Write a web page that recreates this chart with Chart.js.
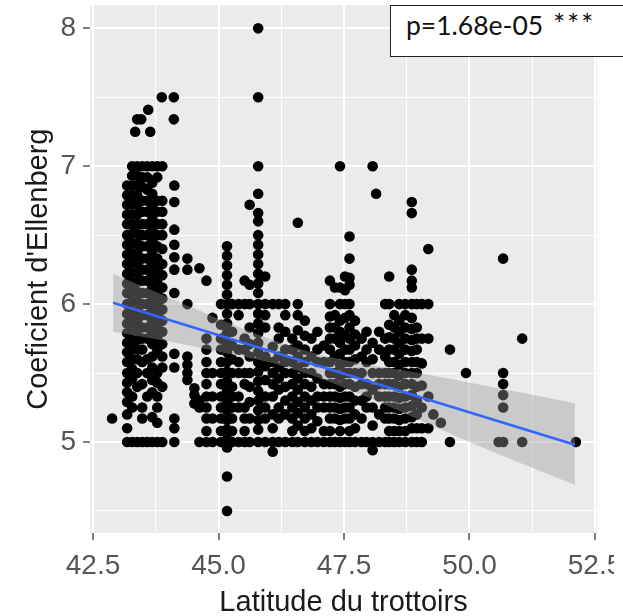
<!DOCTYPE html>
<html><head><meta charset="utf-8">
<script src="https://cdn.jsdelivr.net/npm/chart.js@4.4.0/dist/chart.umd.min.js"></script>
<style>
html,body{margin:0;padding:0;background:#fff;overflow:hidden;width:623px;height:616px;}
#wrap{position:relative;width:623px;height:616px;overflow:hidden;}
#c{position:absolute;left:0;top:0;}
#pbox{position:absolute;left:390px;top:5px;width:250px;height:52px;border:1.6px solid #222;background:#fff;box-sizing:border-box;
 font-family:Lato,"Open Sans",sans-serif;font-size:26.5px;line-height:36px;color:#111;padding-left:15px;white-space:nowrap;}
#pbox .st{font-size:28px;letter-spacing:2px;margin-left:1px;}
</style></head>
<body><div id="wrap"><canvas id="c" width="614" height="616"></canvas><div id="pbox">p=1.68e-05<span class="st"> ***</span></div></div>
<script>
// ---- data ----
const xTickValues = [42.5, 43.75, 45, 46.25, 47.5, 48.75, 50, 51.25, 52.5];
const xMajorTicks = [42.5, 45, 47.5, 50, 52.5];
const yTickValues = [4.5, 5, 5.5, 6, 6.5, 7, 7.5, 8];
const yMajorTicks = [5, 6, 7, 8];

// each stripe: [latitude, [Ellenberg coefficients]]
const stripesSouth = [
 [42.88, [5.17]],
 [43.18, [6.86,6.79,6.72,6.65,6.58,6.50,6.43,6.36,6.29,6.22,6.15,6.08,6.00,5.93,5.86,5.79,5.72,5.65,5.58,5.50,5.43,5.36,5.29,5.20,5.10,5.00]],
 [43.28, [7.00,6.93,6.86,6.79,6.72,6.65,6.58,6.51,6.44,6.37,6.30,6.23,6.16,6.09,6.02,5.95,5.88,5.81,5.74,5.67,5.60,5.53,5.46,5.33,5.25,5.00]],
 [43.34, [7.25]],
 [43.38, [7.34,7.00,6.93,6.86,6.79,6.72,6.65,6.58,6.51,6.44,6.37,6.30,6.23,6.16,6.09,6.02,5.95,5.88,5.81,5.74,5.67,5.60,5.50,5.40,5.00]],
 [43.46, [7.34]],
 [43.48, [7.00,6.92,6.85,6.75,6.67,6.58,6.50,6.42,6.33,6.25,6.17,6.08,6.00,5.92,5.83,5.75,5.67,5.58,5.42,5.25,5.17,5.00]],
 [43.58, [7.00,6.92,6.83,6.75,6.67,6.58,6.50,6.42,6.33,6.25,6.17,6.08,6.00,5.92,5.83,5.75,5.60,5.50,5.33,5.00]],
 [43.60, [7.41]],
 [43.64, [7.25]],
 [43.68, [7.00,6.88,6.80,6.71,6.62,6.54,6.46,6.38,6.29,6.21,6.12,6.04,5.96,5.88,5.79,5.71,5.62,5.54,5.45,5.36,5.18,5.00]],
 [43.78, [7.00,6.92,6.75,6.67,6.58,6.50,6.42,6.33,6.25,6.17,6.08,6.00,5.92,5.83,5.75,5.67,5.50,5.43,5.33,5.25,5.14,5.00]],
 [43.87, [7.50]],
 [43.88, [7.00,6.75,6.67,6.58,6.50,6.40,6.29,6.21,6.12,6.04,5.96,5.88,5.80,5.71,5.62,5.54,5.40,5.00]],
 [44.11, [7.50,7.34]],
 [44.12, [6.86,6.74,6.54,6.43,6.34,6.25,6.08,5.64,5.54,5.17,5.10,5.00]],
 [44.38, [6.33,6.25,6.00,5.62,5.56,5.50,5.45]],
 [44.52, [5.39,5.34,5.28]],
 [44.62, [6.26,5.30,5.25,5.00]],
 [44.76, [6.17,5.75,5.67,5.58,5.50,5.42,5.33,5.25,5.17,5.08,5.00]],
 [44.88, [5.90,5.50,5.33,5.17,5.00]]
];
const stripesCentre = [
 [45.05, [6.00,5.85,5.75,5.67,5.58,5.50,5.42,5.33,5.25,5.17,5.08,5.00]],
 [45.17, [6.42,6.35,6.28,6.21,6.14,6.07,6.00,5.93,5.86,5.79,5.72,5.65,5.58,5.51,5.44,5.37,5.30,5.23,5.16,5.09,5.02,4.96,4.75,4.50]],
 [45.27, [6.00,5.80,5.70,5.60,5.50,5.40,5.33,5.25,5.17,5.08,5.00]],
 [45.40, [6.00,5.92,5.67,5.58,5.50,5.33,5.25,5.00]],
 [45.52, [6.17,6.00,5.75,5.67,5.50,5.42,5.25,5.17,5.08,5.00]],
 [45.62, [6.72,6.14,6.00,5.83,5.71,5.62,5.50,5.40,5.29,5.17,5.00]],
 [45.79, [8.00,7.50,7.00,6.80,6.66,6.60,6.50,6.43,6.36,6.29,6.22,6.15,6.08,6.00,5.93,5.86,5.79,5.72,5.65,5.58,5.51,5.44,5.37,5.30,5.23,5.16,5.09,5.00]],
 [45.93, [6.20,6.00,5.92,5.83,5.62,5.55,5.45,5.33,5.25,5.17,5.00]],
 [46.08, [6.00,5.69,5.58,5.50,5.42,5.33,5.20,5.10,5.00,4.93]],
 [46.20, [6.00,5.83,5.75,5.62,5.54,5.46,5.38,5.25,5.17,5.00]],
 [46.33, [6.00,5.92,5.80,5.67,5.58,5.50,5.40,5.30,5.20,5.00]],
 [46.47, [5.75,5.67,5.58,5.50,5.42,5.33,5.25,5.17,5.08,5.00]],
 [46.58, [6.59,6.00,5.92,5.81,5.70,5.62,5.54,5.46,5.38,5.29,5.21,5.12,5.00]],
 [46.72, [5.88,5.77,5.67,5.58,5.50,5.42,5.33,5.25,5.17,5.08,5.00]],
 [46.85, [5.75,5.62,5.50,5.40,5.30,5.20,5.10,5.00]],
 [46.97, [5.80,5.67,5.58,5.46,5.33,5.25,5.15,5.00]],
 [47.10, [5.70,5.58,5.42,5.33,5.25,5.08,5.00]]
];
const stripesNorth = [
 [47.22, [6.17,6.00,5.91,5.83,5.75,5.67,5.58,5.50,5.42,5.33,5.25,5.17,5.08,5.00]],
 [47.32, [6.12,5.92,5.83,5.75,5.62,5.50,5.42,5.33,5.25,5.17,5.00]],
 [47.42, [7.00,6.12,6.00,5.88,5.80,5.72,5.64,5.56,5.48,5.40,5.32,5.24,5.16,5.08,5.00]],
 [47.52, [6.20,6.10,6.00,5.90,5.77,5.67,5.58,5.50,5.42,5.33,5.25,5.17,5.00]],
 [47.61, [6.49,6.33,6.19,6.14,6.00,5.92,5.83,5.75,5.67,5.58,5.50,5.42,5.33,5.25,5.17,5.08,5.00]],
 [47.72, [5.88,5.78,5.70,5.60,5.50,5.40,5.30,5.20,5.10,5.00]],
 [47.85, [5.75,5.62,5.50,5.42,5.30,5.17,5.00]],
 [47.95, [5.80,5.67,5.58,5.42,5.33,5.25,5.00]],
 [48.07, [7.00,5.72,5.60,5.50,5.38,5.25,5.12,5.00,4.94]],
 [48.14, [6.80]],
 [48.20, [5.80,5.67,5.50,5.42,5.33,5.20,5.00]],
 [48.32, [6.00,5.75,5.62,5.50,5.42,5.33,5.25,5.17,5.00]],
 [48.40, [6.20,6.00,5.85,5.76,5.67,5.58,5.50,5.42,5.33,5.25,5.17,5.08,5.00]],
 [48.50, [5.92,5.83,5.75,5.67,5.58,5.50,5.42,5.33,5.25,5.17,5.08,5.00]],
 [48.60, [6.00,5.88,5.80,5.72,5.64,5.56,5.48,5.40,5.32,5.24,5.16,5.08,5.00]],
 [48.72, [6.00,5.92,5.83,5.75,5.67,5.58,5.50,5.42,5.33,5.25,5.17,5.08,5.00]],
 [48.85, [6.74,6.66,6.25,6.17,6.12,6.00,5.90,5.82,5.74,5.66,5.58,5.50,5.42,5.34,5.26,5.18,5.10,5.00]],
 [48.95, [6.00,5.83,5.75,5.67,5.58,5.50,5.40,5.30,5.20,5.10,5.00]],
 [49.05, [6.00,5.75,5.57,5.41,5.25,5.10,5.00]],
 [49.18, [6.40,6.00,5.75,5.33,5.10]],
 [49.28, [5.20]],
 [49.43, [5.14]],
 [49.61, [5.67,5.00]],
 [49.93, [5.50]],
 [50.58, [5.00]],
 [50.67, [6.33,5.50,5.42,5.34,5.25,5.00]],
 [51.05, [5.75,5.00]],
 [52.12, [5.00]]
];

// linear fit and its 95% confidence band
const fitLat  = [42.9, 52.1];
const fitVal  = [6.01, 4.98];
const bandLat  = [42.9, 44.0, 45.0, 46.0, 47.0, 48.0, 49.0, 50.0, 51.0, 52.1];
const bandHigh = [6.22, 6.05, 5.895, 5.75, 5.635, 5.56, 5.50, 5.43, 5.36, 5.28];
const bandLow  = [5.80, 5.73, 5.655, 5.58, 5.465, 5.32, 5.16, 5.00, 4.85, 4.69];

// ---- chart ----
const points = [];
for (const group of [stripesSouth, stripesCentre, stripesNorth]) {
  for (const [lat, vals] of group) for (const v of vals) points.push({x: lat, y: v});
}
const toXY = (xs, ys) => xs.map((x, i) => ({x, y: ys[i]}));

const panelBg = {
  id: 'panelBg',
  beforeDraw(chart) {
    const {ctx, chartArea: a} = chart;
    ctx.save();
    ctx.fillStyle = '#EBEBEB';
    ctx.fillRect(a.left, a.top, a.right - a.left, a.bottom - a.top);
    ctx.restore();
  }
};

const FONT = '"Liberation Sans", Arial, sans-serif';
const isMajor = (list, v) => list.some(m => Math.abs(m - v) < 1e-6);

new Chart(document.getElementById('c'), {
  type: 'scatter',
  data: {
    datasets: [
      { type: 'line', data: toXY(fitLat, fitVal), borderColor: '#3366FF', borderWidth: 2.5,
        pointRadius: 0, fill: false, order: 0 },
      { type: 'line', data: toXY(bandLat, bandHigh), borderWidth: 0, borderColor: 'rgba(0,0,0,0)',
        pointRadius: 0, fill: '+1', backgroundColor: 'rgba(153,153,153,0.4)', tension: 0.3, order: 1 },
      { type: 'line', data: toXY(bandLat, bandLow), borderWidth: 0, borderColor: 'rgba(0,0,0,0)',
        pointRadius: 0, fill: false, tension: 0.3, order: 1 },
      { type: 'scatter', data: points, backgroundColor: '#000', borderWidth: 0,
        pointRadius: 5.3, pointHoverRadius: 5.3, order: 2 }
    ]
  },
  options: {
    responsive: false,
    animation: false,
    events: [],
    devicePixelRatio: 1,
    layout: { padding: { left: 0, right: 17, top: 5, bottom: 0 } },
    plugins: { legend: { display: false }, tooltip: { enabled: false } },
    scales: {
      x: {
        type: 'linear', min: 42.44, max: 52.54,
        afterBuildTicks: s => { s.ticks = xTickValues.map(v => ({value: v})); },
        afterFit: s => { s.height = 83; s.paddingLeft = 0; s.paddingRight = 0; },
        border: { display: false },
        grid: {
          color: '#FFFFFF',
          lineWidth: c => isMajor(xMajorTicks, c.tick.value) ? 2 : 1,
          drawTicks: true, tickLength: 7, tickWidth: 1.5,
          tickColor: c => isMajor(xMajorTicks, c.tick.value) ? '#555' : 'rgba(0,0,0,0)'
        },
        ticks: {
          autoSkip: false, maxRotation: 0, minRotation: 0, padding: 9, color: '#555555',
          font: { family: FONT, size: 28 },
          callback: v => isMajor(xMajorTicks, v) ? v.toFixed(1) : ''
        },
        title: { display: true, text: 'Latitude du trottoirs', color: '#1A1A1A',
          font: { family: FONT, size: 29, lineHeight: 0.9 }, padding: { top: 0, bottom: 0 } }
      },
      y: {
        type: 'linear', min: 4.34, max: 8.167,
        afterBuildTicks: s => { s.ticks = yTickValues.map(v => ({value: v})); },
        afterFit: s => { s.width = 90; s.paddingTop = 0; s.paddingBottom = 0; },
        border: { display: false },
        grid: {
          color: '#FFFFFF',
          lineWidth: c => isMajor(yMajorTicks, c.tick.value) ? 2 : 1,
          drawTicks: true, tickLength: 7, tickWidth: 1.5,
          tickColor: c => isMajor(yMajorTicks, c.tick.value) ? '#555' : 'rgba(0,0,0,0)'
        },
        ticks: {
          autoSkip: false, padding: 7, color: '#555555',
          font: { family: FONT, size: 28 },
          callback: v => isMajor(yMajorTicks, v) ? String(Math.round(v)) : ''
        },
        title: { display: true, text: "Coeficient d'Ellenberg", color: '#1A1A1A',
          font: { family: FONT, size: 29, lineHeight: 1.2 }, padding: { top: 22, bottom: 0 } }
      }
    }
  },
  plugins: [panelBg]
});
</script>
</body></html>
